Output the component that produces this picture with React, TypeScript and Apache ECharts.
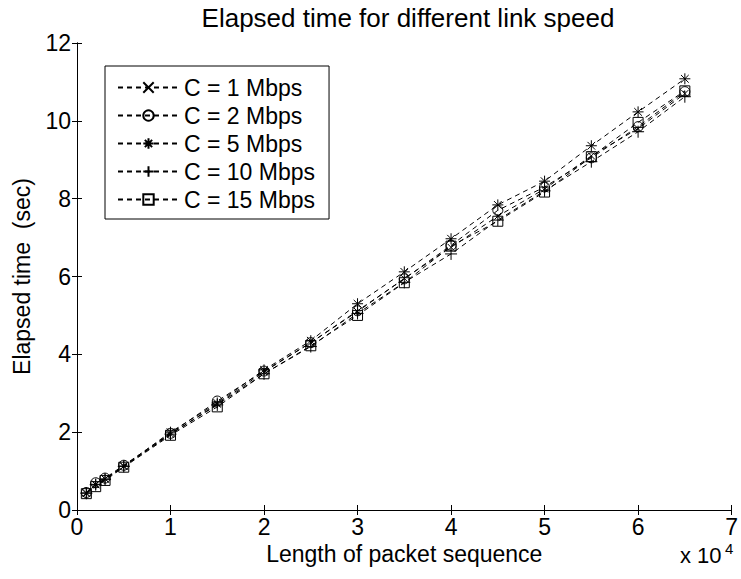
import React, { useEffect, useRef } from 'react';
import * as echarts from 'echarts';

const packetLengths = [1000, 2000, 3000, 5000, 10000, 15000, 20000, 25000, 30000, 35000, 40000, 45000, 50000, 55000, 60000, 65000];
const c1Mbps = [0.42, 0.65, 0.8, 1.12, 1.95, 2.72, 3.55, 4.3, 5.1, 5.95, 6.75, 7.55, 8.25, 9.1, 9.8, 10.7];
const c2Mbps = [0.45, 0.7, 0.82, 1.15, 1.97, 2.8, 3.57, 4.3, 5.12, 5.94, 6.8, 7.7, 8.3, 9.05, 9.85, 10.75];
const c5Mbps = [0.44, 0.66, 0.8, 1.13, 2.0, 2.75, 3.6, 4.35, 5.3, 6.12, 6.97, 7.84, 8.45, 9.36, 10.23, 11.08];
const c10Mbps = [0.43, 0.65, 0.78, 1.12, 1.95, 2.7, 3.5, 4.2, 5.05, 5.85, 6.58, 7.45, 8.2, 8.95, 9.72, 10.62];
const c15Mbps = [0.42, 0.6, 0.76, 1.1, 1.92, 2.65, 3.5, 4.22, 5.0, 5.84, 6.78, 7.42, 8.17, 9.08, 9.96, 10.77];

const seriesNames = ['C = 1 Mbps', 'C = 2 Mbps', 'C = 5 Mbps', 'C = 10 Mbps', 'C = 15 Mbps'];
const seriesValues = [c1Mbps, c2Mbps, c5Mbps, c10Mbps, c15Mbps];
const seriesSymbols = [
  'path://M0,0L10,10M0,10L10,0',
  'circle',
  'path://M5,0L5,10M0,5L10,5M1.5,1.5L8.5,8.5M8.5,1.5L1.5,8.5',
  'path://M5,0L5,10M0,5L10,5',
  'rect',
];
const seriesSymbolSizes = [7, 10, 11, 12, 10];

const titleText = 'Elapsed time for different link speed';
const xAxisTitle = 'Length of packet sequence';
const yAxisTitle = 'Elapsed time  (sec)';

const FONT = '"Liberation Sans", Arial, Helvetica, sans-serif';

export default function App() {
  const ref = useRef<HTMLDivElement>(null);
  useEffect(() => {
    if (!ref.current) return;
    const chart = echarts.init(ref.current, undefined, { renderer: 'svg' });
    const axisCommon = {
      axisLine: { show: true, lineStyle: { color: '#000', width: 1 } },
      axisTick: { show: true, inside: true, length: 5, lineStyle: { color: '#000', width: 1 } },
      splitLine: { show: false },
    };
    const option: any = {
      animation: false,
      backgroundColor: '#fff',
      textStyle: { fontFamily: FONT },
      grid: { left: 77, top: 43, right: 7, bottom: 69, containLabel: false },
      graphic: [
        {
          type: 'text',
          x: 408,
          y: 18,
          style: { text: titleText, fontSize: 26, fontFamily: FONT, fill: '#000', textAlign: 'center', textVerticalAlign: 'middle' },
        },
        {
          type: 'text',
          x: 680,
          y: 555,
          style: { text: 'x 10', fontSize: 22, fontFamily: FONT, fill: '#000', textAlign: 'left', textVerticalAlign: 'middle' },
        },
        {
          type: 'text',
          x: 725,
          y: 548,
          style: { text: '4', fontSize: 15, fontFamily: FONT, fill: '#000', textAlign: 'left', textVerticalAlign: 'middle' },
        },
      ],
      legend: {
        orient: 'vertical',
        left: 105,
        top: 66,
        itemWidth: 61,
        itemHeight: 13,
        itemGap: 5,
        padding: [10, 14, 8, 12],
        borderColor: '#000',
        borderWidth: 1,
        borderRadius: 0,
        backgroundColor: '#fff',
        textStyle: { fontSize: 23, color: '#000', fontFamily: FONT },
        data: seriesNames,
      },
      xAxis: [
        {
          type: 'value',
          min: 0,
          max: 70000,
          interval: 10000,
          position: 'bottom',
          name: xAxisTitle,
          nameLocation: 'middle',
          nameGap: 30,
          nameTextStyle: { fontSize: 23, color: '#000', fontFamily: FONT },
          axisLabel: { fontSize: 23, color: '#000', margin: 5, fontFamily: FONT, formatter: (v: number) => String(v / 10000) },
          ...axisCommon,
        },
        {
          type: 'value',
          min: 0,
          max: 70000,
          interval: 10000,
          position: 'top',
          axisLabel: { show: false },
          ...axisCommon,
        },
      ],
      yAxis: [
        {
          type: 'value',
          min: 0,
          max: 12,
          interval: 2,
          position: 'left',
          name: yAxisTitle,
          nameLocation: 'middle',
          nameGap: 44,
          nameTextStyle: { fontSize: 23, color: '#000', fontFamily: FONT },
          axisLabel: { fontSize: 23, color: '#000', margin: 6, fontFamily: FONT },
          ...axisCommon,
        },
        {
          type: 'value',
          min: 0,
          max: 12,
          interval: 2,
          position: 'right',
          axisLabel: { show: false },
          ...axisCommon,
        },
      ],
      series: seriesNames.map((name, i) => ({
        name,
        type: 'line',
        xAxisIndex: 0,
        yAxisIndex: 0,
        data: packetLengths.map((x, j) => [x, seriesValues[i][j]]),
        symbol: seriesSymbols[i],
        symbolSize: seriesSymbolSizes[i],
        showAllSymbol: true,
        lineStyle: { color: '#000', width: 1, type: [5, 4] },
        itemStyle: { color: 'rgba(0,0,0,0)', borderColor: '#000', borderWidth: 1 },
        emphasis: { disabled: true },
        z: 2 + i,
      })),
    };
    chart.setOption(option);
    return () => chart.dispose();
  }, []);
  return (
    <div
      ref={ref}
      style={{ position: 'fixed', left: 0, top: 0, width: 741, height: 579 }}
    />
  );
}
